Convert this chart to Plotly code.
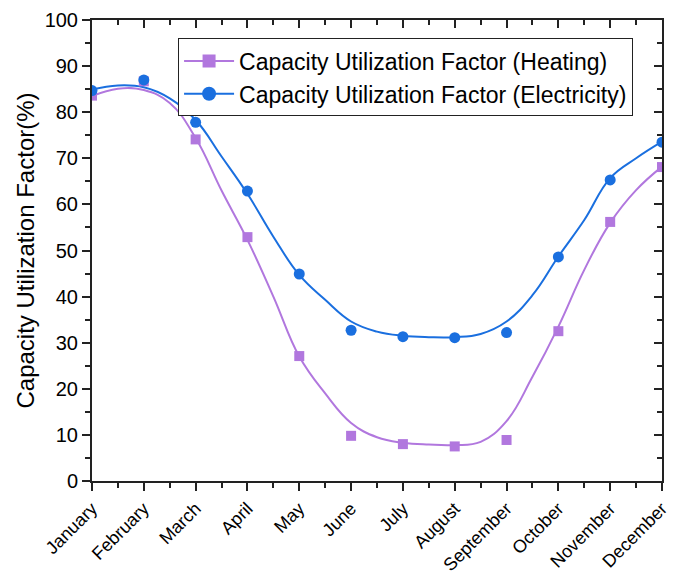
import plotly.graph_objects as go

months = ["January", "February", "March", "April", "May", "June", "July",
          "August", "September", "October", "November", "December"]
month_idx = list(range(12))

heating = [83.6, 86.7, 74.1, 52.9, 27.1, 9.8, 8.0, 7.5, 8.9, 32.5, 56.2, 68.1]
electricity = [84.7, 87.0, 77.8, 62.9, 44.9, 32.7, 31.3, 31.1, 32.2, 48.6, 65.3, 73.5]

# fitted curves at half-month steps
fit_x = [0, 0.5, 1, 1.5, 2, 2.5, 3, 3.5, 4, 4.5, 5, 5.5, 6, 6.5, 7, 7.5, 8, 8.5, 9, 9.5, 10, 10.5, 11]
fit_heating = [83.5, 85.1, 84.8, 82.0, 74.4, 63.0, 52.3, 40.0, 27.0, 19.0, 12.6, 9.5, 8.3, 7.9, 7.8, 8.5,
               13.0, 22.6, 33.5, 45.8, 56.0, 63.1, 68.2]
fit_electricity = [84.9, 85.8, 85.4, 83.0, 78.3, 70.4, 62.3, 53.0, 44.7, 39.3, 34.6, 32.4, 31.5, 31.2, 31.2,
                   31.9, 34.6, 40.3, 48.7, 56.6, 65.7, 70.0, 73.6]

purple = "#B177DE"
blue = "#1A6FDF"
font = "Liberation Sans, Arial, sans-serif"

fig = go.Figure()
fig.add_trace(go.Scatter(x=fit_x, y=fit_heating, mode="lines",
                         line=dict(color=purple, width=2, shape="spline", smoothing=1.2),
                         showlegend=False, hoverinfo="skip"))
fig.add_trace(go.Scatter(x=fit_x, y=fit_electricity, mode="lines",
                         line=dict(color=blue, width=2, shape="spline", smoothing=1.2),
                         showlegend=False, hoverinfo="skip"))
fig.add_trace(go.Scatter(x=month_idx, y=heating, mode="markers",
                         marker=dict(symbol="square", size=10, color=purple), showlegend=False))
fig.add_trace(go.Scatter(x=month_idx, y=electricity, mode="markers",
                         marker=dict(symbol="circle", size=11, color=blue), showlegend=False))
fig.add_trace(go.Scatter(x=[None], y=[None], mode="lines+markers", name="Capacity Utilization Factor (Heating)",
                         line=dict(color=purple, width=2), marker=dict(symbol="square", size=13, color=purple)))
fig.add_trace(go.Scatter(x=[None], y=[None], mode="lines+markers", name="Capacity Utilization Factor (Electricity)",
                         line=dict(color=blue, width=2), marker=dict(symbol="circle", size=14, color=blue)))

axcol = "#222222"
fig.update_layout(
    width=691, height=575,
    margin=dict(l=92, r=29, t=20, b=94),
    plot_bgcolor="white", paper_bgcolor="white",
    font=dict(family=font, color="black"),
    xaxis=dict(range=[0, 11], tickvals=month_idx, ticktext=months, tickangle=-45, automargin=False,
               showgrid=False, zeroline=False, showline=True, linecolor=axcol, linewidth=2,
               ticks="outside", ticklen=8, tickwidth=1.5, tickcolor=axcol,
               minor=dict(dtick=0.5, ticks="outside", ticklen=5, tickwidth=1.5, tickcolor=axcol),
               tickfont=dict(size=18)),
    yaxis=dict(range=[0, 100], dtick=10, showgrid=False, zeroline=False, showline=True, automargin=False,
               linecolor=axcol, linewidth=2, ticks="outside", ticklen=8, tickwidth=1.5, tickcolor=axcol,
               minor=dict(dtick=5, ticks="outside", ticklen=5, tickwidth=1.5, tickcolor=axcol),
               tickfont=dict(size=20),
               title=dict(text="Capacity Utilization Factor(%)", font=dict(size=24), standoff=3)),
    xaxis2=dict(range=[0, 11], overlaying="x", side="top", dtick=1, tick0=0, showticklabels=False,
                showgrid=False, zeroline=False, showline=True, linecolor=axcol, linewidth=2,
                ticks="inside", ticklen=8, tickwidth=1.5, tickcolor=axcol,
                minor=dict(dtick=0.5, ticks="inside", ticklen=5, tickwidth=1.5, tickcolor=axcol)),
    yaxis2=dict(range=[0, 100], overlaying="y", side="right", dtick=10, showticklabels=False,
                showgrid=False, zeroline=False, showline=True, linecolor=axcol, linewidth=2,
                ticks="inside", ticklen=8, tickwidth=1.5, tickcolor=axcol,
                minor=dict(dtick=5, ticks="inside", ticklen=5, tickwidth=1.5, tickcolor=axcol)),
    legend=dict(x=0.151, y=0.96, xanchor="left", yanchor="top", bgcolor="white",
                bordercolor="#222222", borderwidth=1, font=dict(size=23), itemwidth=50,
                tracegroupgap=0),
)
fig.add_trace(go.Scatter(x=[None], y=[None], xaxis="x2", yaxis="y2", showlegend=False, hoverinfo="skip"))

fig.write_html("out.html")
